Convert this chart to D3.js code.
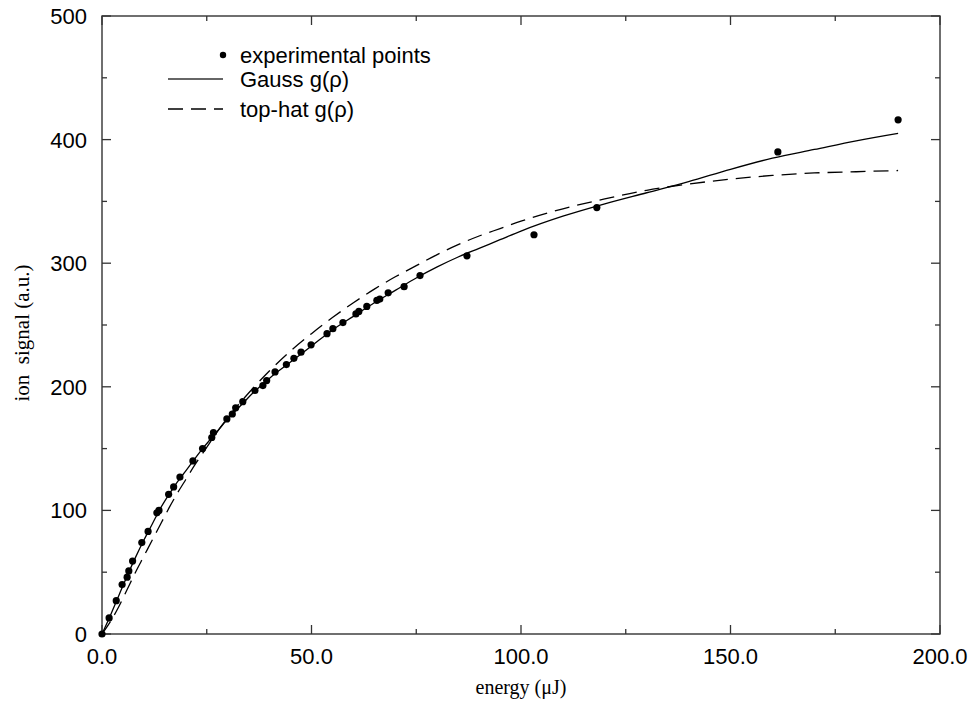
<!DOCTYPE html>
<html><head><meta charset="utf-8">
<script src="https://cdn.jsdelivr.net/npm/d3@7"></script>
<style>body{margin:0;background:#fff}</style>
</head><body>
<svg id="chart" width="974" height="704"></svg>
<script>
const expX = [0,1.7,3.4,4.8,6.0,6.4,7.3,9.5,11.0,13.1,13.6,15.9,17.1,18.6,21.7,24.0,26.2,26.6,29.8,31.1,31.9,33.6,36.5,38.4,39.3,41.3,44.0,45.8,47.5,49.9,53.7,55.1,57.5,60.6,61.3,63.2,65.6,66.3,68.3,72.1,75.9,87.1,103.1,118.1,161.3,190.0];
const expY = [0,13,27,40,46,51,59,74,83,98,100,113,119,127,140,150,159,163,174,178,183,188,197,201,205,212,218,223,228,234,243,247,252,259,261,265,270,271,276,281,290,306,323,345,390,416];
const gaussX = [0,2,4,6,8,10,12,14,16,18,20,22,24,26,28,30,32,34,36,38,40,45,50,55,60,65,70,75,80,85,90,95,100,110,120,130,140,150,160,170,180,190];
const gaussY = [0,15,31,47,62,76,89,102,113,123,132,141,150,158,166,174,181,188,195,201,207,220,233,246,257,268,278,288,297,305,312,319,326,338,348,357,366,376,385,392,399,405];
const hatX = [0,2,4,6,8,10,12,14,16,18,20,22,24,26,28,30,35,40,45,50,55,60,65,70,75,80,85,90,95,100,110,120,130,140,150,160,170,180,190];
const hatY = [0,10,22,36,50,63,76,89,102,114,125,136,146,156,166,175,195,213,229,243,256,268,279,289,298,307,315,322,328,334,344,352,359,364,368,371,373,374,375];
const xTicks = [0,50,100,150,200];
const xTickLabels = ["0.0","50.0","100.0","150.0","200.0"];
const yTicks = [0,100,200,300,400,500];
const yTickLabels = ["0","100","200","300","400","500"];
const legendLabels = ["experimental points","Gauss g(\u03c1)","top-hat g(\u03c1)"];

const svg = d3.select("#chart");
const L=102, R=940, T=16, B=634;
const x = d3.scaleLinear().domain([0,200]).range([L,R]);
const y = d3.scaleLinear().domain([0,500]).range([B,T]);
const axisColor = "#333";

// frame
svg.append("rect").attr("x",L).attr("y",T).attr("width",R-L).attr("height",B-T)
  .attr("fill","none").attr("stroke",axisColor).attr("stroke-width",1.4);

// ticks
const xMinor = d3.range(25,200,50);
const yMinor = d3.range(50,500,100);
const tk = svg.append("g").attr("stroke",axisColor).attr("stroke-width",1.3);
xTicks.forEach(v=>{
  tk.append("line").attr("x1",x(v)).attr("x2",x(v)).attr("y1",B).attr("y2",B-9);
  tk.append("line").attr("x1",x(v)).attr("x2",x(v)).attr("y1",T).attr("y2",T+9);
});
xMinor.forEach(v=>{
  tk.append("line").attr("x1",x(v)).attr("x2",x(v)).attr("y1",B).attr("y2",B-5);
  tk.append("line").attr("x1",x(v)).attr("x2",x(v)).attr("y1",T).attr("y2",T+5);
});
yTicks.forEach(v=>{
  tk.append("line").attr("x1",L).attr("x2",L+9).attr("y1",y(v)).attr("y2",y(v));
  tk.append("line").attr("x1",R).attr("x2",R-9).attr("y1",y(v)).attr("y2",y(v));
});
yMinor.forEach(v=>{
  tk.append("line").attr("x1",L).attr("x2",L+5).attr("y1",y(v)).attr("y2",y(v));
  tk.append("line").attr("x1",R).attr("x2",R-5).attr("y1",y(v)).attr("y2",y(v));
});

// tick labels
const sans = "Liberation Sans, Arial, sans-serif";
xTicks.forEach((v,i)=>{
  svg.append("text").attr("x",x(v)).attr("y",B+30).attr("text-anchor","middle")
    .attr("font-family",sans).attr("font-size",22).text(xTickLabels[i]);
});
yTicks.forEach((v,i)=>{
  svg.append("text").attr("x",L-15).attr("y",y(v)+8).attr("text-anchor","end")
    .attr("font-family",sans).attr("font-size",22).text(yTickLabels[i]);
});

// axis titles
const serif = "Liberation Serif, Times New Roman, serif";
svg.append("text").attr("x",(L+R)/2).attr("y",694).attr("text-anchor","middle")
  .attr("font-family",serif).attr("font-size",20).text("energy (\u03bcJ)");
svg.append("text").attr("transform","translate(29,333) rotate(-90)")
  .attr("text-anchor","middle").attr("font-family",serif).attr("font-size",21)
  .attr("xml:space","preserve").style("white-space","pre").text("ion  signal (a.u.)");

// curves
const line = d3.line().x(d=>x(d[0])).y(d=>y(d[1])).curve(d3.curveMonotoneX);
svg.append("path").datum(gaussX.map((v,i)=>[v,gaussY[i]])).attr("d",line)
  .attr("fill","none").attr("stroke","#000").attr("stroke-width",1.3);
svg.append("path").datum(hatX.map((v,i)=>[v,hatY[i]])).attr("d",line)
  .attr("fill","none").attr("stroke","#000").attr("stroke-width",1.3)
  .attr("stroke-dasharray","15,8");

// points
svg.append("g").selectAll("circle").data(expX.map((v,i)=>[v,expY[i]])).join("circle")
  .attr("cx",d=>x(d[0])).attr("cy",d=>y(d[1])).attr("r",3.6).attr("fill","#000");

// legend
const lg = svg.append("g");
lg.append("circle").attr("cx",223).attr("cy",55).attr("r",3.2).attr("fill","#000");
lg.append("line").attr("x1",168).attr("x2",223).attr("y1",79).attr("y2",79)
  .attr("stroke","#333").attr("stroke-width",1.3);
lg.append("line").attr("x1",168).attr("x2",223).attr("y1",109).attr("y2",109)
  .attr("stroke","#000").attr("stroke-width",1.3).attr("stroke-dasharray","15,8");
[55,79,109].forEach((yy,i)=>{
  lg.append("text").attr("x",240).attr("y",yy+8).attr("font-family",sans)
    .attr("font-size",22).text(legendLabels[i]);
});
</script>
</body></html>
